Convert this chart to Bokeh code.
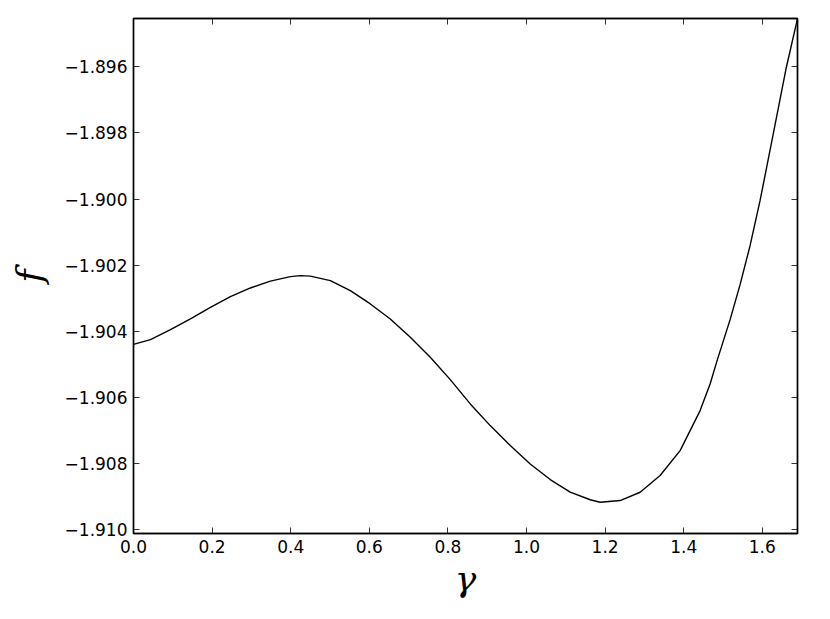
from bokeh.plotting import figure
from bokeh.models import Range1d, LinearAxis, FixedTicker, CustomJSTickFormatter
from bokeh.embed import file_html
from bokeh.resources import INLINE

# Data
gamma = [0.0000, 0.0432, 0.0941, 0.1449, 0.1958, 0.2466, 0.2975, 0.3483, 0.3992,
         0.4246, 0.4500, 0.5009, 0.5517, 0.6026, 0.6534, 0.7043, 0.7551, 0.8060,
         0.8569, 0.9077, 0.9586, 1.0094, 1.0603, 1.1111, 1.1620, 1.1874, 1.2382,
         1.2891, 1.3399, 1.3908, 1.4417, 1.4671, 1.4849, 1.5180, 1.5434, 1.5688,
         1.5942, 1.6273, 1.6603, 1.6895]
f_vals = [-1.904391, -1.904249, -1.903947, -1.903624, -1.903273, -1.902950, -1.902687,
          -1.902481, -1.902345, -1.902315, -1.902330, -1.902466, -1.902768, -1.903170,
          -1.903624, -1.904180, -1.904784, -1.905458, -1.906192, -1.906848, -1.907452,
          -1.908008, -1.908479, -1.908857, -1.909090, -1.909165, -1.909114, -1.908863,
          -1.908358, -1.907603, -1.906394, -1.905588, -1.904884, -1.903645, -1.902587,
          -1.901409, -1.900049, -1.898055, -1.896060, -1.894541]

x_ticks = [0.0, 0.2, 0.4, 0.6, 0.8, 1.0, 1.2, 1.4, 1.6]
y_ticks = [-1.910, -1.908, -1.906, -1.904, -1.902, -1.900, -1.898, -1.896]
x_limits = (0.0, 1.6895)
y_limits = (-1.91011, -1.89454)

p = figure(width=822, height=611, output_backend="svg", toolbar_location=None,
           x_range=Range1d(*x_limits), y_range=Range1d(*y_limits),
           min_border_left=133, min_border_right=25, min_border_top=18, min_border_bottom=78)
p.grid.visible = False
p.outline_line_color = "black"
p.outline_line_width = 1.4
p.background_fill_color = "white"
p.border_fill_color = "white"

p.line(gamma, f_vals, line_color="black", line_width=1.4)

fmt_x = CustomJSTickFormatter(code="return (tick < 0 ? '\\u2212' : '') + Math.abs(tick).toFixed(1);")
fmt_y = CustomJSTickFormatter(code="return (tick < 0 ? '\\u2212' : '') + Math.abs(tick).toFixed(3);")
blank = CustomJSTickFormatter(code="return '';")

def style(ax, ticks, fmt):
    ax.ticker = FixedTicker(ticks=ticks)
    ax.formatter = fmt
    ax.major_tick_in = 6
    ax.major_tick_out = 0
    ax.minor_tick_in = 0
    ax.minor_tick_out = 0
    ax.major_tick_line_color = "black"
    ax.major_tick_line_width = 0.8
    ax.axis_line_color = "black"
    ax.axis_line_width = 1.4
    ax.major_label_text_font = "DejaVu Sans"
    ax.major_label_text_font_size = "17px"
    ax.major_label_text_color = "black"

xa = p.xaxis[0]
ya = p.yaxis[0]
style(xa, x_ticks, fmt_x)
style(ya, y_ticks, fmt_y)
xa.major_label_standoff = 6
ya.major_label_standoff = 6

xa.axis_label = "γ"
xa.axis_label_text_font = "DejaVu Serif"
xa.axis_label_text_font_style = "italic"
xa.axis_label_text_font_size = "36px"
xa.axis_label_text_color = "black"
xa.axis_label_standoff = 2

ya.axis_label = "f"
ya.axis_label_text_font = "DejaVu Serif"
ya.axis_label_text_font_style = "italic"
ya.axis_label_text_font_size = "36px"
ya.axis_label_text_color = "black"
ya.axis_label_standoff = 12

top = LinearAxis()
right = LinearAxis()
style(top, x_ticks, blank)
style(right, y_ticks, blank)
top.major_label_standoff = 0
right.major_label_standoff = 0
p.add_layout(top, "above")
p.add_layout(right, "right")

open("out.html", "w").write(file_html(p, INLINE))
